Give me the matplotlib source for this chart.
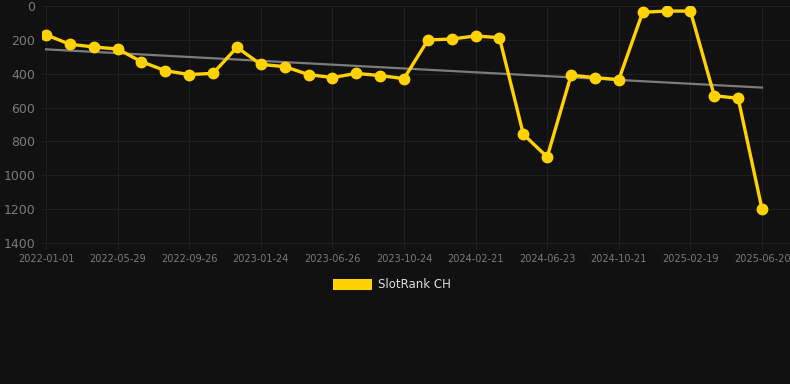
import numpy as np
import matplotlib
matplotlib.use("Agg")
import matplotlib.pyplot as plt
from matplotlib.patches import Rectangle

# data
ranks = [170, 226, 242, 254, 329, 382, 405, 398, 244, 345, 358, 405, 423, 398, 411,
         429, 201, 195, 177, 187, 758, 892, 409, 423, 435, 37, 30, 30, 530, 545, 1199]
tick_labels = ["2022-01-01", "2022-05-29", "2022-09-26", "2023-01-24", "2023-06-26",
               "2023-10-24", "2024-02-21", "2024-06-23", "2024-10-21", "2025-02-19",
               "2025-06-20"]
trend = [256, 482]
series_name = "SlotRank CH"

bg = "#111111"
gold = "#FFD200"
grid_c = "#1f1f1f"
text_c = "#7a7a7a"

fig = plt.figure(figsize=(7.9, 3.84), dpi=100, facecolor=bg)
ax = fig.add_axes([42 / 790, 1 - 243 / 384, 1 - 42 / 790, 237 / 384])
ax.set_facecolor(bg)

x = np.arange(len(ranks))
ax.plot([x[0], x[-1]], trend, color="#7c7c7c", linewidth=1.6, zorder=2)
ax.plot(x, ranks, color=gold, linewidth=2.4, marker="o", markersize=7.5,
        markerfacecolor=gold, markeredgecolor=gold, zorder=3)

ax.set_ylim(1400, 0)
ax.set_xlim(-4 / 23.87, 30 + 28 / 23.87)
ax.set_yticks(range(0, 1401, 200))
ax.set_xticks(x[::3])
ax.set_xticklabels(tick_labels)

ax.grid(True, color=grid_c, linewidth=0.8)
ax.set_axisbelow(True)
for s in ["top", "right", "left"]:
    ax.spines[s].set_visible(False)
ax.spines["bottom"].set_color(grid_c)
ax.tick_params(axis="y", length=0, colors=text_c, labelsize=9, pad=5)
ax.tick_params(axis="x", length=4, color=grid_c, colors=text_c, labelsize=7, pad=4)

# legend
fig.add_artist(Rectangle((333 / 790, 1 - 290 / 384), 39 / 790, 11 / 384,
                         transform=fig.transFigure, facecolor=gold, edgecolor="none"))
fig.text(378 / 790, 1 - 285 / 384, series_name, color="#dddddd", fontsize=8.5,
         va="center", ha="left")

fig.savefig("out.png", dpi=100, facecolor=bg)
